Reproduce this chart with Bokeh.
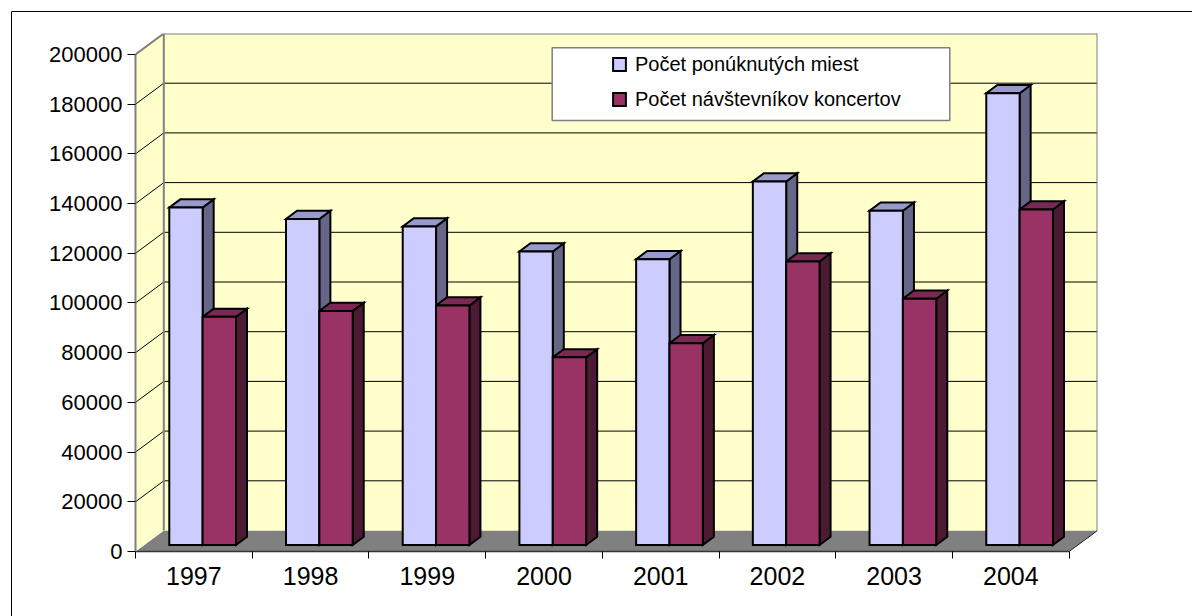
from bokeh.plotting import figure
from bokeh.models import (Range1d, FixedTicker, NumeralTickFormatter, ColumnDataSource,
                          Legend, LegendItem, BoxAnnotation, LinearAxis)
from bokeh.embed import file_html
from bokeh.resources import INLINE

# ---------------- data ----------------
years = ["1997", "1998", "1999", "2000", "2001", "2002", "2003", "2004"]
offered_seats = [135800, 131200, 128200, 118100, 115000, 146300, 134500, 181800]
visitors = [91800, 94200, 96400, 75500, 81200, 114100, 99100, 135000]
y_ticks = [0, 20000, 40000, 60000, 80000, 100000, 120000, 140000, 160000, 180000, 200000]
series_names = ["Počet ponúknutých miest", "Počet návštevníkov koncertov"]

# ---------------- styling / layout ----------------
FONT = "Liberation Sans"
W, H = 1192, 616
ML, MT, MR, MB = 135, 33, 95, 65
DX = 0.2426      # depth offset in category units
DY = 8450        # depth offset in value units
BAR_W = 0.2857
F0, F1 = 0.31, 0.70
n = len(years)
YMAX = y_ticks[-1]

WALL = "#FFFFCC"
FLOOR = "#808080"
COLS = [("#CCCCFF", "#9999CC", "#666688"), ("#993366", "#7A2952", "#4D1A33")]

p = figure(width=W, height=H, x_range=Range1d(0, n + DX), y_range=Range1d(0, YMAX + DY),
           output_backend="svg", toolbar_location=None,
           min_border_left=ML, min_border_right=MR, min_border_top=MT, min_border_bottom=MB,
           x_axis_location=None, y_axis_location=None)
p.grid.visible = False
p.outline_line_color = None
p.background_fill_color = "white"
p.border_fill_color = "white"

PPX = (W - ML - MR) / (n + DX)
PPY = (H - MT - MB) / (YMAX + DY)


def px_x(page_x):
    return (page_x - ML) / PPX


def px_y(page_y):
    return (H - MB - page_y) / PPY


def P(x, v, f):
    return (x + f * DX, v + f * DY)


def poly(pts):
    return [q[0] for q in pts], [q[1] for q in pts]


# walls and floor
wall_xs, wall_ys, wall_c = [], [], []
for pts, c in [
    ([P(0, 0, 0), P(n, 0, 0), P(n, 0, 1), P(0, 0, 1)], FLOOR),
    ([P(0, 0, 0), P(0, 0, 1), P(0, YMAX, 1), P(0, YMAX, 0)], WALL),
    ([P(0, 0, 1), P(n, 0, 1), P(n, YMAX, 1), P(0, YMAX, 1)], WALL),
]:
    xs, ys = poly(pts)
    wall_xs.append(xs); wall_ys.append(ys); wall_c.append(c)
p.patches(xs="xs", ys="ys", fill_color="c", line_color=None,
          source=ColumnDataSource(dict(xs=wall_xs, ys=wall_ys, c=wall_c)))

# gridlines
gx, gy = [], []
for v in y_ticks[1:-1]:
    a, b = P(0, v, 1), P(n, v, 1)
    gx.append([a[0], b[0]]); gy.append([a[1], b[1]])
for v in y_ticks[1:-1]:
    a, b = P(0, v, 0), P(0, v, 1)
    gx.append([a[0], b[0]]); gy.append([a[1], b[1]])
p.multi_line(gx, gy, line_color="black", line_width=1)

# wall edges
ex, ey = [], []
for seg in [[P(0, 0, 1), P(0, YMAX, 1)], [P(0, YMAX, 1), P(n, YMAX, 1)],
            [P(n, YMAX, 1), P(n, 0, 1)], [P(0, YMAX, 0), P(0, YMAX, 1)]]:
    xs, ys = poly(seg)
    ex.append(xs); ey.append(ys)
p.multi_line(ex, ey, line_color="#808080", line_width=2)
fx, fy = poly([P(n, 0, 0), P(n, 0, 1)])
p.line(fx, fy, line_color="#222222", line_width=1)

# bars: sides and tops first (in order), then front faces per series
bx, by, bc = [], [], []
fronts = [dict(xs=[], ys=[]), dict(xs=[], ys=[])]
for i in range(n):
    c = i + 0.5
    for s, vals in enumerate([offered_seats, visitors]):
        x0 = c - BAR_W + s * BAR_W
        x1 = x0 + BAR_W
        v = vals[i]
        front_c, top_c, side_c = COLS[s]
        side = [P(x1, 0, F0), P(x1, 0, F1), P(x1, v, F1), P(x1, v, F0)]
        top = [P(x0, v, F0), P(x1, v, F0), P(x1, v, F1), P(x0, v, F1)]
        front = [P(x0, 0, F0), P(x1, 0, F0), P(x1, v, F0), P(x0, v, F0)]
        for pts, col in [(side, side_c), (top, top_c)]:
            xs, ys = poly(pts)
            bx.append(xs); by.append(ys); bc.append(col)
        xs, ys = poly(front)
        fronts[s]["xs"].append(xs); fronts[s]["ys"].append(ys)
p.patches(xs="xs", ys="ys", fill_color="c", line_color="black", line_width=2,
          line_join="miter", source=ColumnDataSource(dict(xs=bx, ys=by, c=bc)))
front_renderers = []
for s in range(2):
    r = p.patches(xs="xs", ys="ys", fill_color=COLS[s][0], line_color="black", line_width=2,
                  line_join="miter", source=ColumnDataSource(fronts[s]))
    front_renderers.append(r)

# axes
yax = LinearAxis(ticker=FixedTicker(ticks=y_ticks), formatter=NumeralTickFormatter(format="0"),
                 bounds=(0, YMAX))
yax.axis_line_color = "#808080"
yax.axis_line_width = 2
yax.major_tick_in = 0
yax.major_tick_out = 8
yax.major_tick_line_color = "black"
yax.minor_tick_line_color = None
yax.major_label_standoff = 5
yax.major_label_text_font = FONT
yax.major_label_text_font_size = "22px"
yax.major_label_text_color = "black"
p.add_layout(yax, "left")

xax = LinearAxis(ticker=FixedTicker(ticks=[i + 0.5 for i in range(n)],
                                    minor_ticks=list(range(n + 1))),
                 bounds=(0, n))
xax.major_label_overrides = {i + 0.5: years[i] for i in range(n)}
xax.axis_line_color = "#333333"
xax.axis_line_width = 1.5
xax.major_tick_line_color = None
xax.major_tick_in = 0
xax.major_tick_out = 7
xax.minor_tick_in = 0
xax.minor_tick_out = 7
xax.minor_tick_line_color = "black"
xax.major_label_standoff = 8
xax.major_label_text_font = FONT
xax.major_label_text_font_size = "25px"
xax.major_label_text_color = "black"
p.add_layout(xax, "below")

# legend box
box = BoxAnnotation(left=px_x(551.7), right=px_x(949.3), top=px_y(47.3), bottom=px_y(120),
                    fill_color="white", fill_alpha=1, line_color="#808080", line_alpha=1,
                    line_width=1.5)
p.add_layout(box)

legend = Legend(items=[LegendItem(label=series_names[0], renderers=[front_renderers[0]]),
                       LegendItem(label=series_names[1], renderers=[front_renderers[1]])],
                location=(476, 437), padding=0, spacing=5, label_standoff=8,
                glyph_width=16, glyph_height=16, label_height=30, margin=0,
                border_line_color=None, background_fill_alpha=0,
                label_text_font=FONT, label_text_font_size="20px", label_text_color="black")
p.add_layout(legend)

# outer chart border (top and left edges)
p.line([px_x(11), px_x(11), px_x(W)], [px_y(H), px_y(11), px_y(11)],
       line_color="black", line_width=1, level="overlay")

open("out.html", "w").write(file_html(p, INLINE))
